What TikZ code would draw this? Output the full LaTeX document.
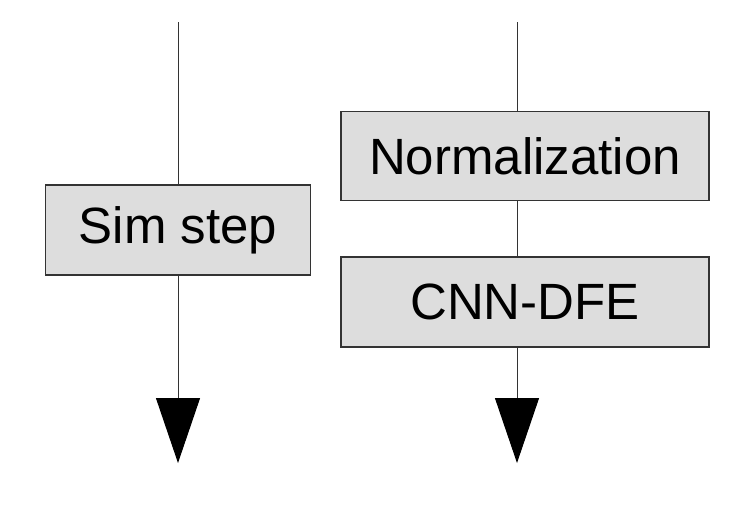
\documentclass[tikz,border=0pt]{standalone}
\usepackage{fontspec}
\setmainfont{Liberation Sans}
\usetikzlibrary{arrows.meta}
\definecolor{boxfill}{HTML}{DDDDDD}
\definecolor{boxline}{HTML}{333333}

\begin{document}
\begin{tikzpicture}[x=1pt,y=-1pt,
    block/.style={draw=boxline,fill=boxfill,line width=1.2pt,inner sep=0pt,
      font=\fontsize{51}{60}\selectfont},
    flow/.style={draw=boxline,line width=1pt},
    >={Triangle[length=65pt,width=44pt,black]}]
  \useasboundingbox (0,0) rectangle (743,504);
  % left column
  \coordinate (ltop) at (178,22);
  \coordinate (lend) at (178,463);
  \node[block,minimum width=265pt,minimum height=90pt] (sim) at (178,230) {Sim step};
  \draw[flow] (ltop) -- (sim.north);
  \draw[flow,->] (sim.south) -- (lend);
  % right column
  \coordinate (rtop) at (517,22);
  \coordinate (rend) at (517,463);
  \node[block,minimum width=368pt,minimum height=89pt] (norm) at (525,156) {Normalization};
  \node[block,minimum width=368pt,minimum height=90pt] (cnn) at (525,302) {CNN-DFE};
  \draw[flow] (rtop) -- (rtop |- norm.north);
  \draw[flow] (rtop |- norm.south) -- (rtop |- cnn.north);
  \draw[flow,->] (rtop |- cnn.south) -- (rend);
\end{tikzpicture}
\end{document}
